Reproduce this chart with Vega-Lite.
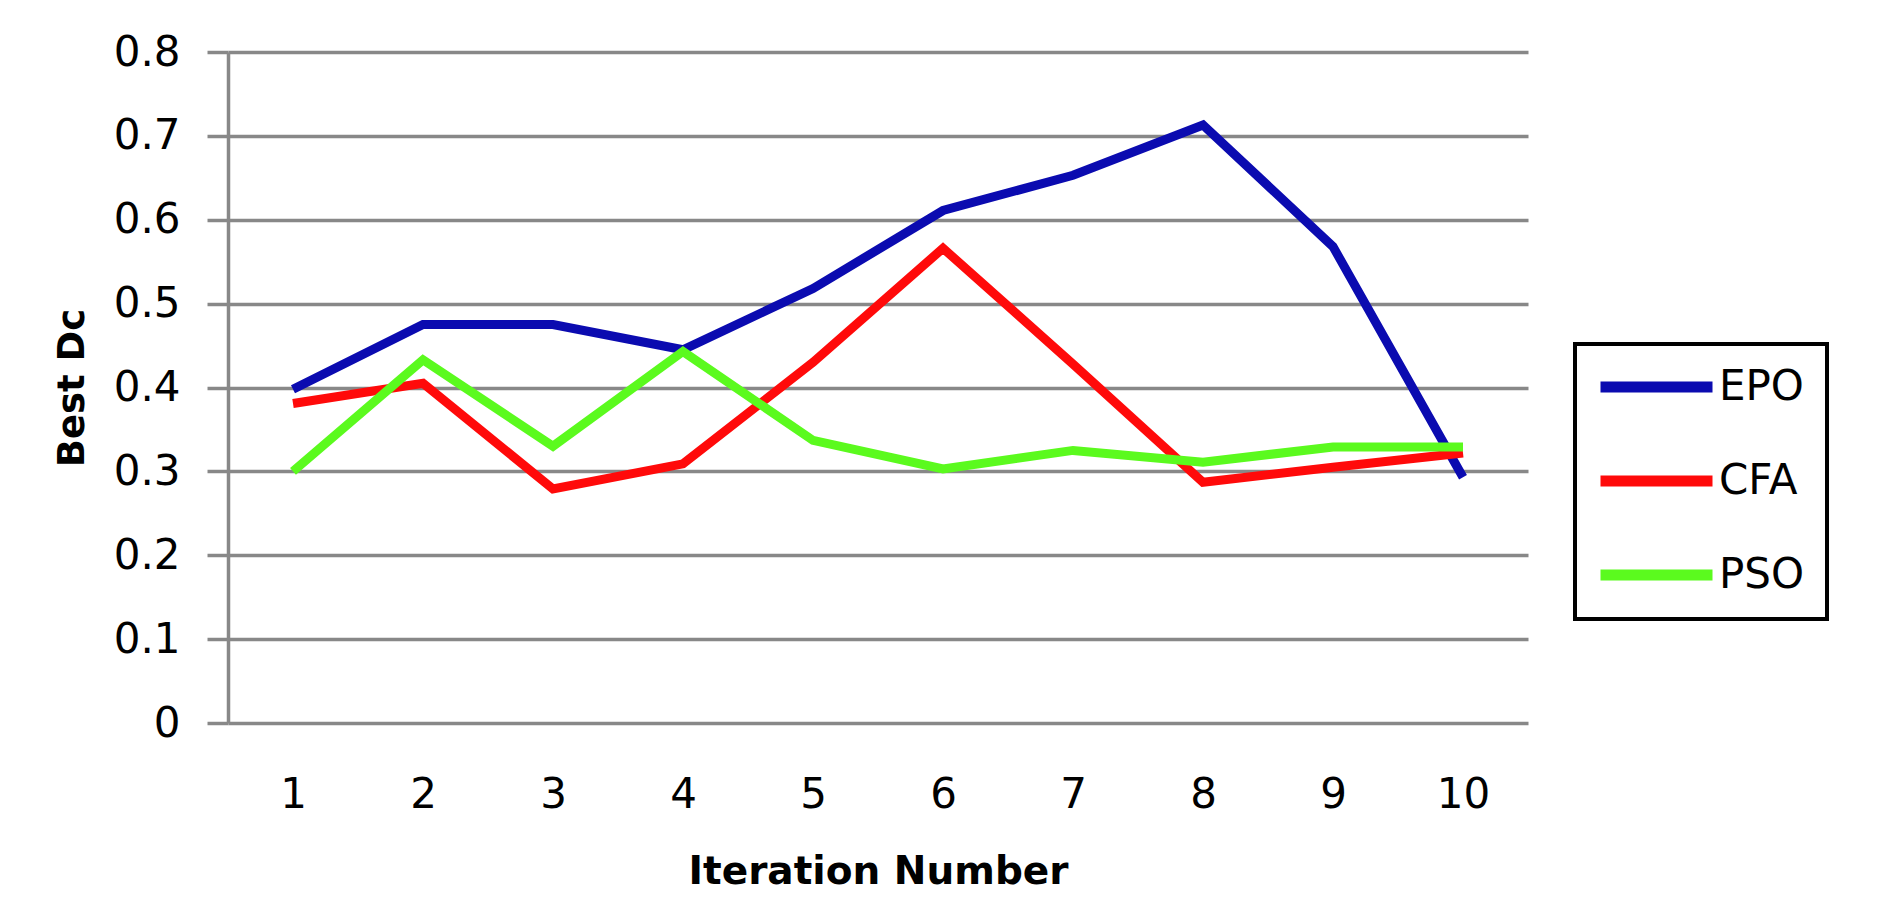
{
  "$schema": "https://vega.github.io/schema/vega-lite/v6.json",
  "width": 1300,
  "height": 671,
  "autosize": {"type": "none"},
  "padding": {"left": 228, "top": 52, "right": 350, "bottom": 198},
  "background": "white",
  "config": {"view": {"stroke": null}, "font": "DejaVu Sans"},
  "data": {"values": [
    {"iter": 1, "method": "EPO", "value": 0.398},
    {"iter": 2, "method": "EPO", "value": 0.475},
    {"iter": 3, "method": "EPO", "value": 0.475},
    {"iter": 4, "method": "EPO", "value": 0.445},
    {"iter": 5, "method": "EPO", "value": 0.518},
    {"iter": 6, "method": "EPO", "value": 0.611},
    {"iter": 7, "method": "EPO", "value": 0.653},
    {"iter": 8, "method": "EPO", "value": 0.713},
    {"iter": 9, "method": "EPO", "value": 0.568},
    {"iter": 10, "method": "EPO", "value": 0.293},
    {"iter": 1, "method": "CFA", "value": 0.381},
    {"iter": 2, "method": "CFA", "value": 0.405},
    {"iter": 3, "method": "CFA", "value": 0.279},
    {"iter": 4, "method": "CFA", "value": 0.309},
    {"iter": 5, "method": "CFA", "value": 0.43},
    {"iter": 6, "method": "CFA", "value": 0.566},
    {"iter": 7, "method": "CFA", "value": 0.428},
    {"iter": 8, "method": "CFA", "value": 0.287},
    {"iter": 9, "method": "CFA", "value": 0.305},
    {"iter": 10, "method": "CFA", "value": 0.322},
    {"iter": 1, "method": "PSO", "value": 0.300},
    {"iter": 2, "method": "PSO", "value": 0.433},
    {"iter": 3, "method": "PSO", "value": 0.330},
    {"iter": 4, "method": "PSO", "value": 0.443},
    {"iter": 5, "method": "PSO", "value": 0.337},
    {"iter": 6, "method": "PSO", "value": 0.303},
    {"iter": 7, "method": "PSO", "value": 0.325},
    {"iter": 8, "method": "PSO", "value": 0.311},
    {"iter": 9, "method": "PSO", "value": 0.329},
    {"iter": 10, "method": "PSO", "value": 0.329}
  ]},
  "mark": {"type": "line", "strokeWidth": 9},
  "encoding": {
    "x": {
      "field": "iter",
      "type": "ordinal",
      "scale": {"type": "point", "padding": 0.5},
      "axis": {
        "title": "Iteration Number",
        "titleFont": "DejaVu Sans",
        "titleFontSize": 39,
        "titleFontWeight": "bold",
        "titleColor": "black",
        "titlePadding": 37,
        "labelAngle": 0,
        "labelFont": "DejaVu Sans",
        "labelFontSize": 42,
        "labelColor": "black",
        "labelPadding": 51,
        "ticks": false,
        "domain": false,
        "grid": false
      }
    },
    "y": {
      "field": "value",
      "type": "quantitative",
      "scale": {"domain": [0, 0.8], "nice": false, "zero": true},
      "axis": {
        "values": [0, 0.1, 0.2, 0.3, 0.4, 0.5, 0.6, 0.7, 0.8],
        "format": ".1~f",
        "title": "Best Dc",
        "titleFont": "DejaVu Sans",
        "titleFontSize": 37,
        "titleFontWeight": "bold",
        "titleColor": "black",
        "titlePadding": 22,
        "labelFont": "DejaVu Sans",
        "labelFontSize": 42,
        "labelColor": "black",
        "labelPadding": 27,
        "tickSize": 21,
        "tickWidth": 3.5,
        "tickColor": "#888888",
        "domainColor": "#888888",
        "domainWidth": 3.5,
        "grid": true,
        "gridColor": "#888888",
        "gridWidth": 3.5,
        "gridOpacity": 1
      }
    },
    "color": {
      "field": "method",
      "type": "nominal",
      "scale": {"domain": ["EPO", "CFA", "PSO"], "range": ["#0B0BB0", "#FF0A0A", "#5BFA1E"]},
      "legend": {
        "title": null,
        "orient": "none",
        "legendX": 1347,
        "legendY": 292,
        "symbolType": "M-1.75,0H9.45",
        "symbolSize": 400,
        "symbolStrokeWidth": 11,
        "labelFont": "DejaVu Sans",
        "labelFontSize": 42,
        "labelColor": "black",
        "labelOffset": 80,
        "padding": 22,
        "rowPadding": 50,
        "strokeColor": "black",
        "fillColor": "white",
        "cornerRadius": 0,
        "encode": {"legend": {"update": {"strokeWidth": {"value": 4}}}}
      }
    }
  }
}
